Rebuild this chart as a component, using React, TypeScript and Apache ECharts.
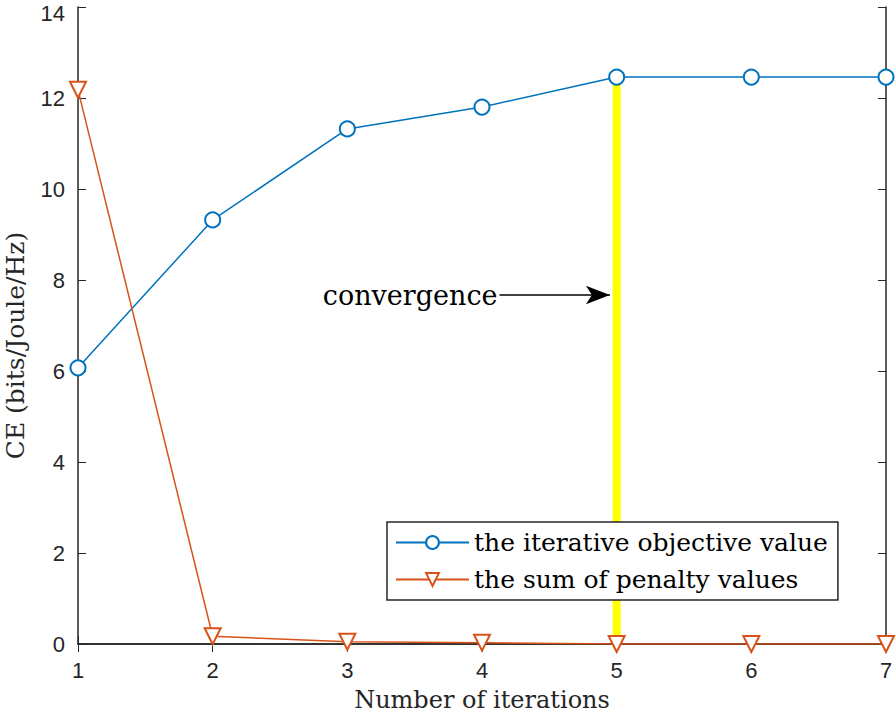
import React, { useEffect, useRef } from "react";
import * as echarts from "echarts";

const iterations = [1, 2, 3, 4, 5, 6, 7];
const objectiveValues = [6.07, 9.32, 11.32, 11.8, 12.46, 12.46, 12.46];
const penaltyValues = [12.18, 0.17, 0.05, 0.03, 0.0, 0.0, 0.0];
const convergenceIter = 5;
const arrowY = 7.67;
const arrowFromX = 4.13;
const arrowToX = 4.95;

const serif = "DejaVu Serif";
const sans = "Liberation Sans";

export default function App() {
  const ref = useRef<HTMLDivElement>(null);
  useEffect(() => {
    if (!ref.current) return;
    const chart = echarts.init(ref.current, null, { renderer: "svg" });
    const axisLine = { show: true, lineStyle: { color: "#262626", width: 1.5 } };
    const tick = { show: true, inside: true, length: 8, lineStyle: { color: "#262626", width: 1 } };
    chart.setOption({
      animation: false,
      backgroundColor: "#fff",
      grid: {
        left: 78,
        top: 7,
        right: 10,
        bottom: 69,
        containLabel: false,
        outerBoundsMode: "none",
      },
      legend: {
        left: 387,
        top: 522,
        orient: "vertical",
        data: ["the iterative objective value", "the sum of penalty values"],
        backgroundColor: "#fff",
        borderColor: "#262626",
        borderWidth: 1.5,
        borderRadius: 0,
        padding: [8, 10, 8, 8],
        itemWidth: 73,
        itemHeight: 16,
        itemGap: 12,
        textStyle: { fontFamily: serif, fontSize: 25, color: "#000" },
      },
      xAxis: [
        {
          type: "value",
          min: 1,
          max: 7,
          interval: 1,
          name: "Number of iterations",
          nameLocation: "middle",
          nameGap: 44,
          nameTextStyle: { fontFamily: serif, fontSize: 24, color: "#262626" },
          axisLine,
          axisTick: tick,
          splitLine: { show: false },
          axisLabel: { fontFamily: sans, fontSize: 22, color: "#262626", margin: 15 },
        },
        {
          type: "value",
          position: "top",
          min: 1,
          max: 7,
          interval: 1,
          axisLine,
          axisTick: tick,
          axisLabel: { show: false },
          splitLine: { show: false },
        },
      ],
      yAxis: [
        {
          type: "value",
          min: 0,
          max: 14,
          interval: 2,
          name: "CE (bits/Joule/Hz)",
          nameLocation: "middle",
          nameGap: 50,
          nameTextStyle: {
            fontFamily: serif,
            fontSize: 25,
            color: "#262626",
            padding: [0, 40, 0, 0],
          },
          axisLine,
          axisTick: tick,
          splitLine: { show: false },
          axisLabel: {
            fontFamily: sans,
            fontSize: 22,
            color: "#262626",
            margin: 13,
            formatter: (v: number) => (v === 14 ? "{t|14}" : String(v)),
            rich: { t: { fontFamily: sans, fontSize: 22, color: "#262626", padding: [12, 0, 0, 0] } },
          },
        },
        {
          type: "value",
          position: "right",
          min: 0,
          max: 14,
          interval: 2,
          axisLine,
          axisTick: tick,
          axisLabel: { show: false },
          splitLine: { show: false },
        },
      ],
      series: [
        {
          name: "the iterative objective value",
          type: "line",
          data: iterations.map((x, i) => [x, objectiveValues[i]]),
          color: "#0072BD",
          lineStyle: { width: 1.5, color: "#0072BD" },
          symbol: "emptyCircle",
          symbolSize: 15,
          itemStyle: { color: "#0072BD", borderWidth: 1.5 },
          z: 3,
        },
        {
          name: "convergence-bar",
          type: "line",
          data: [
            [convergenceIter, 0],
            [convergenceIter, objectiveValues[convergenceIter - 1]],
          ],
          lineStyle: { width: 8, color: "#FFFF00" },
          symbol: "none",
          z: 2,
          markLine: {
            silent: true,
            symbol: ["none", "arrow"],
            symbolSize: [14, 24],
            lineStyle: { color: "#000", width: 1.5, type: "solid" },
            label: {
              show: true,
              position: "start",
              formatter: "convergence",
              fontFamily: serif,
              fontSize: 27,
              color: "#000",
              distance: 2,
            },
            data: [[{ coord: [arrowFromX, arrowY] }, { coord: [arrowToX, arrowY] }]],
          },
        },
        {
          name: "the sum of penalty values",
          type: "line",
          data: iterations.map((x, i) => [x, penaltyValues[i]]),
          color: "#D95319",
          lineStyle: { width: 1.5, color: "#D95319" },
          symbol: "emptyTriangle",
          symbolRotate: 180,
          symbolSize: 16,
          itemStyle: { color: "#D95319", borderWidth: 1.5 },
          z: 3,
        },
      ],
    });
    return () => chart.dispose();
  }, []);
  return (
    <div
      ref={ref}
      style={{ position: "fixed", left: 0, top: 0, width: 896, height: 713 }}
    />
  );
}
